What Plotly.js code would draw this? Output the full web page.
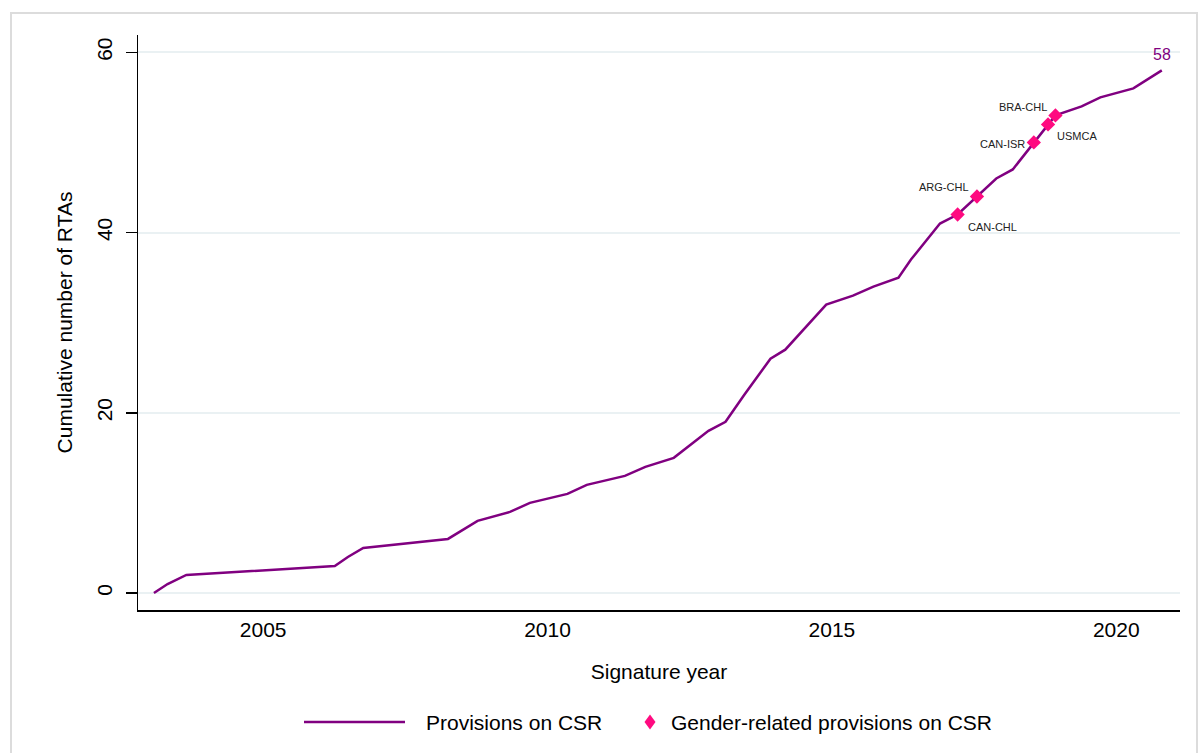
<!DOCTYPE html>
<html>
<head>
<meta charset="utf-8">
<script src="https://cdn.plot.ly/plotly-3.0.1.min.js"></script>
<style>
  html, body { margin: 0; padding: 0; background: #ffffff; }
  #chart { width: 1203px; height: 753px; }
</style>
</head>
<body>
<div id="chart"></div>
<script>
// Cumulative number of RTAs with provisions on CSR, by signature date
const signatureYears = [2003.08, 2003.32, 2003.65, 2006.26, 2006.49, 2006.76, 2008.25, 2008.52, 2008.77, 2009.34,
  2009.69, 2010.35, 2010.69, 2011.36, 2011.72, 2012.22, 2012.83, 2013.13, 2013.46, 2013.92,
  2014.18, 2014.90, 2015.37, 2015.73, 2016.17, 2016.39, 2016.90, 2017.21, 2017.55, 2017.89,
  2018.18, 2018.55, 2018.80, 2018.93, 2019.39, 2019.72, 2020.30, 2020.80];
const cumulativeRTAs = [0, 1, 2, 3, 4, 5, 6, 7, 8, 9,
  10, 11, 12, 13, 14, 15, 18, 19, 22, 26,
  27, 32, 33, 34, 35, 37, 41, 42, 44, 46,
  47, 50, 52, 53, 54, 55, 56, 58];

// RTAs with gender-related provisions on CSR
const genderNames = ["CAN-CHL", "ARG-CHL", "CAN-ISR", "USMCA", "BRA-CHL"];
const genderYears = [2017.21, 2017.55, 2018.55, 2018.80, 2018.93];
const genderCounts = [42, 44, 50, 52, 53];

const xTickVals = [2005, 2010, 2015, 2020];
const yTickVals = [0, 20, 40, 60];
const seriesNames = ["Provisions on CSR", "Gender-related provisions on CSR"];

const FONT = "Liberation Sans, Arial, sans-serif";
const PURPLE = "#800080";
const PINK = "#ff0a80";

// label placement for each gender marker (side, pixel offsets)
const labelStyle = {
  "CAN-CHL": { xanchor: "left",  xshift: 8,  yshift: -12 },
  "ARG-CHL": { xanchor: "right", xshift: -6, yshift: 9 },
  "CAN-ISR": { xanchor: "right", xshift: -7, yshift: -2 },
  "USMCA":   { xanchor: "left",  xshift: 7,  yshift: -12 },
  "BRA-CHL": { xanchor: "right", xshift: -6, yshift: 8 }
};

const traces = [
  {
    type: "scatter", mode: "lines",
    x: signatureYears, y: cumulativeRTAs,
    name: seriesNames[0],
    line: { color: PURPLE, width: 2.5 },
    hoverinfo: "x+y"
  },
  {
    type: "scatter", mode: "markers",
    x: genderYears, y: genderCounts,
    text: genderNames,
    name: seriesNames[1],
    marker: { symbol: "diamond", size: 11, color: PINK, line: { width: 0 } },
    cliponaxis: false
  }
];

const annotations = genderNames.map((nm, i) => ({
  x: genderYears[i], y: genderCounts[i], xref: "x", yref: "y",
  text: nm, showarrow: false,
  xanchor: labelStyle[nm].xanchor, yanchor: "middle",
  xshift: labelStyle[nm].xshift, yshift: labelStyle[nm].yshift,
  font: { family: FONT, size: 11, color: "#222222" }
}));

const lastIdx = cumulativeRTAs.length - 1;
annotations.push({
  x: signatureYears[lastIdx], y: cumulativeRTAs[lastIdx],
  xref: "x", yref: "y", text: String(cumulativeRTAs[lastIdx]),
  showarrow: false, yanchor: "bottom", xanchor: "center", yshift: 5,
  font: { family: FONT, size: 16, color: PURPLE }
});

// Custom legend (paper coordinates): plot area spans 138..1180 px, 35..610 px
const W = 1042, H = 575, L = 138, B = 610;
const px = v => (v - L) / W;
const py = v => (B - v) / H;
const legY = 722;

annotations.push({
  x: px(424), y: py(legY), xref: "paper", yref: "paper",
  text: seriesNames[0], showarrow: false, xanchor: "left", yanchor: "middle",
  font: { family: FONT, size: 21, color: "#000000" }
});
annotations.push({
  x: px(669), y: py(legY), xref: "paper", yref: "paper",
  text: seriesNames[1], showarrow: false, xanchor: "left", yanchor: "middle",
  font: { family: FONT, size: 21, color: "#000000" }
});

const dx = 5.5, dy = 7.5, cx = 650;
const shapes = [
  {
    type: "rect", xref: "paper", yref: "paper",
    x0: px(11), x1: px(1197), y0: py(770), y1: py(13),
    line: { color: "#dcdcdc", width: 2 }, fillcolor: "rgba(0,0,0,0)", layer: "below"
  },
  {
    type: "line", xref: "paper", yref: "paper",
    x0: px(304), x1: px(405), y0: py(legY), y1: py(legY),
    line: { color: PURPLE, width: 2.5 }
  },
  {
    type: "path", xref: "paper", yref: "paper",
    path: `M ${px(cx)},${py(legY - dy)} L ${px(cx + dx)},${py(legY)} L ${px(cx)},${py(legY + dy)} L ${px(cx - dx)},${py(legY)} Z`,
    fillcolor: PINK, line: { width: 0 }
  }
];

const layout = {
  width: 1203, height: 753,
  margin: { l: 138, r: 23, t: 35, b: 143 },
  paper_bgcolor: "#ffffff", plot_bgcolor: "#ffffff",
  font: { family: FONT, size: 21, color: "#000000" },
  showlegend: false,
  xaxis: {
    range: [2002.80, 2021.12],
    tickvals: xTickVals, ticktext: xTickVals.map(String),
    ticks: "", showgrid: false, zeroline: false,
    showline: true, linecolor: "#000000", linewidth: 1.5,
    tickfont: { family: FONT, size: 21 },
    title: { text: "Signature year", font: { family: FONT, size: 21 }, standoff: 24 }
  },
  yaxis: {
    range: [-1.885, 61.92],
    tickvals: yTickVals, ticktext: yTickVals.map(String),
    ticks: "outside", ticklen: 11, tickcolor: "#000000", tickwidth: 1.5,
    tickangle: -90, ticklabelstandoff: 5,
    showgrid: true, gridcolor: "#eaf1f3", gridwidth: 2,
    zeroline: false,
    showline: true, linecolor: "#000000", linewidth: 1.5,
    tickfont: { family: FONT, size: 21 },
    title: { text: "Cumulative number of RTAs", font: { family: FONT, size: 21 }, standoff: 14 }
  },
  annotations: annotations,
  shapes: shapes
};

Plotly.newPlot("chart", traces, layout, { displayModeBar: false, staticPlot: true });
</script>
</body>
</html>
